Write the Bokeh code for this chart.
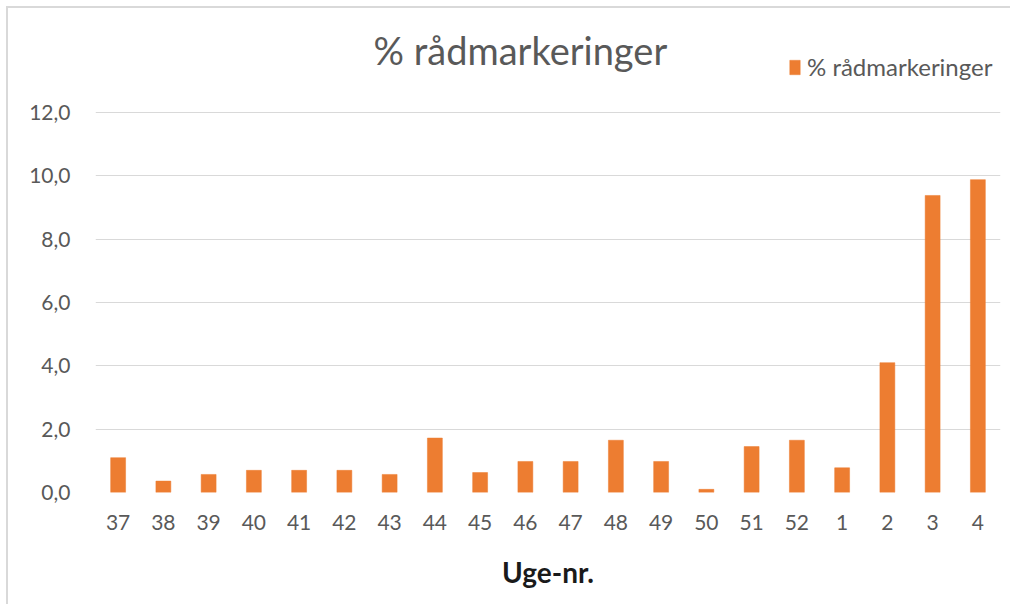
from bokeh.plotting import figure
from bokeh.models import Range1d, FactorRange, FixedTicker, Label, Legend, LegendItem, ColumnDataSource
from bokeh.embed import file_html
from bokeh.resources import INLINE

weeks = ["37", "38", "39", "40", "41", "42", "43", "44", "45", "46",
         "47", "48", "49", "50", "51", "52", "1", "2", "3", "4"]
pct = [1.1, 0.36, 0.57, 0.7, 0.7, 0.7, 0.57, 1.72, 0.63, 0.98,
       0.98, 1.65, 0.98, 0.1, 1.45, 1.65, 0.78, 4.1, 9.38, 9.88]
y_ticks = [0, 2, 4, 6, 8, 10, 12]
y_tick_labels = ["0,0", "2,0", "4,0", "6,0", "8,0", "10,0", "12,0"]
series_name = "% rådmarkeringer"
title_text = "% rådmarkeringer"
x_title = "Uge-nr."

FONT = "Lato"
TXT = "#595959"
BAR = "#ED7D31"
GRID = "#D9D9D9"

src = ColumnDataSource(dict(week=weeks, pct=pct))

p = figure(width=1004, height=598,
           x_range=FactorRange(factors=weeks, range_padding=0),
           y_range=Range1d(0, 14.905),
           output_backend="svg", toolbar_location=None,
           min_border_left=87, min_border_right=12,
           min_border_top=12, min_border_bottom=114)
p.styles = {"margin-left": "6px", "margin-top": "6px",
            "border-left": "2px solid #d9d9d9", "border-top": "2px solid #d9d9d9"}
p.outline_line_color = None
p.background_fill_color = "white"
p.border_fill_color = "white"

r = p.vbar(x="week", top="pct", width=0.33, source=src,
           fill_color=BAR, line_color=BAR, line_width=0.5)

# axes
p.yaxis.ticker = FixedTicker(ticks=y_ticks)
p.yaxis.major_label_overrides = {t: l for t, l in zip(y_ticks, y_tick_labels)}
for ax in (p.xaxis, p.yaxis):
    ax.axis_line_color = None
    ax.major_tick_line_color = None
    ax.minor_tick_line_color = None
    ax.major_tick_in = 0
    ax.major_tick_out = 0
    ax.major_label_text_font = FONT
    ax.major_label_text_font_size = "21px"
    ax.major_label_text_color = TXT
p.yaxis.major_label_standoff = 25
p.xaxis.major_label_standoff = 22
p.xaxis.axis_label = x_title
p.xaxis.axis_label_text_font = FONT
p.xaxis.axis_label_text_font_size = "28px"
p.xaxis.axis_label_text_font_style = "bold"
p.xaxis.axis_label_text_color = "#1a1a1a"
p.xaxis.axis_label_standoff = 22

p.xgrid.grid_line_color = None
p.ygrid.ticker = FixedTicker(ticks=y_ticks)
p.ygrid.grid_line_color = GRID
p.ygrid.grid_line_width = 1

# title
p.add_layout(Label(x=9.39, y=13.96, text=title_text, text_align="center",
                   text_baseline="middle", text_font=FONT, text_font_size="38px",
                   text_color=TXT))

# legend
legend = Legend(items=[LegendItem(label=series_name, renderers=[r])],
                location=(693, 411), orientation="horizontal",
                padding=0, margin=0, spacing=0,
                glyph_width=13, glyph_height=18, label_standoff=6,
                label_text_font=FONT, label_text_font_size="24px",
                label_text_color=TXT, border_line_color=None,
                background_fill_alpha=0)
p.add_layout(legend, "center")

open("out.html", "w").write(file_html(p, INLINE))
